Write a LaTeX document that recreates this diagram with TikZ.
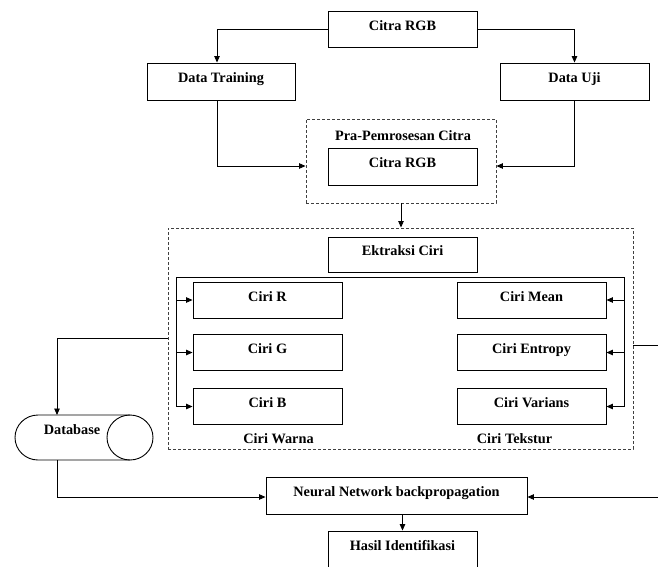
\documentclass[tikz,border=0pt]{standalone}
\usepackage{fontspec}
\setmainfont{Liberation Serif}
\usetikzlibrary{arrows.meta,calc}
\begin{document}
\begin{tikzpicture}[x=1pt,y=-1pt,
  lw/.style={line width=0.9pt},
  txt/.style={font=\bfseries\fontsize{14.3}{16}\selectfont},
  box/.style={lw,draw,txt,inner sep=0pt,minimum width=149pt,minimum height=37pt,text height=10pt,text depth=8pt},
  dbox/.style={line width=0.9pt,draw=black!75,dash pattern=on 3pt off 2pt,inner sep=0pt},
  arr/.style={lw,-{Triangle[length=6.5pt,width=5.5pt]}},
  ln/.style={lw}]
\useasboundingbox (0,0) rectangle (658,566);
% nodes
\node[box,minimum height=36pt] (top) at (402.5,29) {Citra RGB};
\node[box,minimum width=148pt] (train) at (221,81.5) {Data Training};
\node[box] (uji) at (574.5,81.5) {Data Uji};
\node[dbox,minimum width=190pt,minimum height=84pt] (pra) at (401,161) {};
\node[txt,anchor=base] (pralbl) at (403,140) {Pra-Pemrosesan Citra};
\node[box] (rgb) at (402.5,166.5) {Citra RGB};
\node[dbox,minimum width=465pt,minimum height=221pt] (big) at (400.5,338.5) {};
\node[box,minimum height=35pt] (ek) at (402.5,254.5) {Ektraksi Ciri};
\node[box,minimum height=36pt] (R) at (267.5,300) {Ciri R};
\node[box,minimum height=36pt] (G) at (267.5,352.5) {Ciri G};
\node[box,minimum height=36pt] (B) at (267.5,406.5) {Ciri B};
\node[box,minimum height=36pt] (M) at (531.5,300) {Ciri Mean};
\node[box,minimum height=36pt] (E) at (531.5,352.5) {Ciri Entropy};
\node[box,minimum height=36pt] (V) at (531.5,406.5) {Ciri Varians};
\node[txt,anchor=base] (warna) at (278.5,443) {Ciri Warna};
\node[txt,anchor=base] (tekstur) at (514.5,443) {Ciri Tekstur};
\node[box,minimum width=261pt] (nn) at (396.5,495.5) {Neural Network backpropagation};
\node[box] (hasil) at (402.5,549.5) {Hasil Identifikasi};
% database cylinder
\draw[ln] (130,415) -- (38,415) arc[start angle=90,end angle=270,x radius=23pt,y radius=22.5pt] -- (130,460);
\draw[ln] (130,437.5) ellipse [x radius=23pt,y radius=22.5pt];
\node[txt,anchor=base] (db) at (72,434) {Database};
\coordinate (dbt) at (57,415);
\coordinate (dbb) at (57,460);
% coordinates
\coordinate (bl) at (176,277);
\coordinate (br) at (624,277);
\coordinate (rc) at (664,0);
% connectors
\draw[arr] (top.west) -| ([xshift=-4pt]train.north);
\draw[arr] (top.east) -| (uji.north);
\draw[arr] ([xshift=-4pt]train.south) |- ([yshift=-5pt]pra.west);
\draw[arr] (uji.south) |- ([yshift=-5pt]pra.east);
\draw[arr] (pra.south) -- (pra.south |- big.north);
\draw[ln] (bl |- B.west) -- (bl) -- (br) -- (br |- V.east);
\draw[arr] (bl |- R.west) -- (R.west);
\draw[arr] (bl |- G.west) -- (G.west);
\draw[arr] (bl |- B.west) -- (B.west);
\draw[arr] (br |- M.east) -- (M.east);
\draw[arr] (br |- E.east) -- (E.east);
\draw[arr] (br |- V.east) -- (V.east);
\draw[arr] (big.west) -| (dbt);
\draw[arr] (dbb) |- ([yshift=-1.5pt]nn.west);
\draw[arr] ([yshift=-7pt]big.east) -- ([yshift=-7pt]big.east -| rc) |- ([yshift=-1.5pt]nn.east);
\draw[arr] (hasil.north |- nn.south) -- (hasil.north);
\end{tikzpicture}
\end{document}
